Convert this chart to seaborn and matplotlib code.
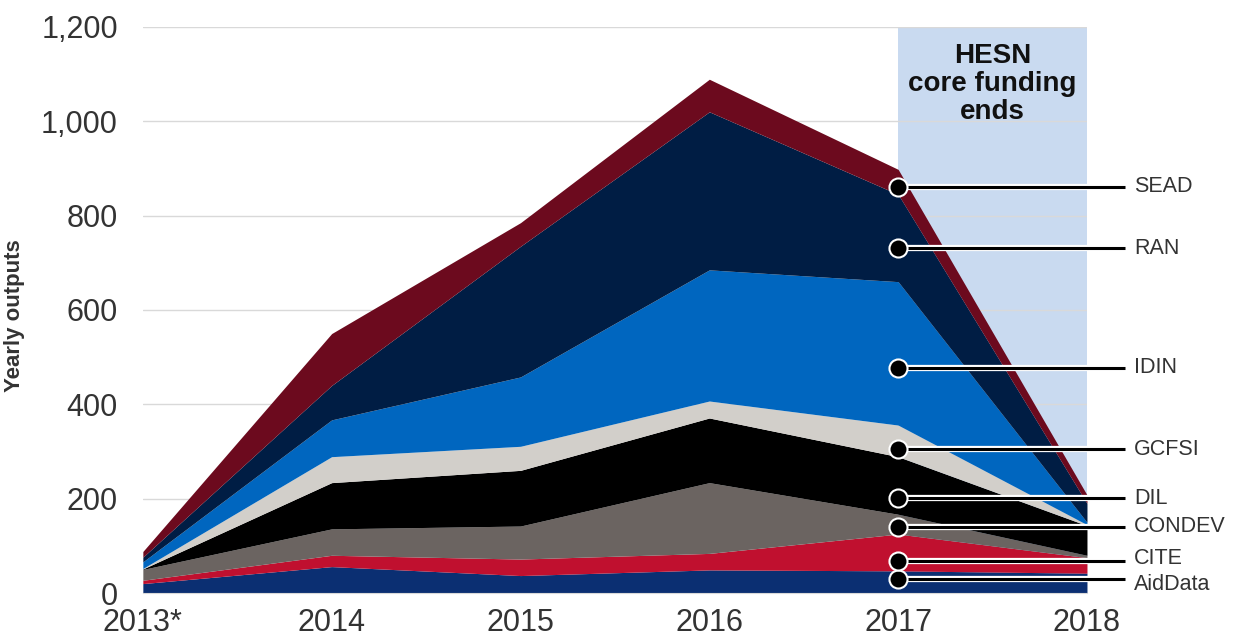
import matplotlib
matplotlib.use("Agg")
import matplotlib.pyplot as plt
import matplotlib.patheffects as pe
import seaborn as sns

years = [2013, 2014, 2015, 2016, 2017, 2018]
year_labels = ["2013*", "2014", "2015", "2016", "2017", "2018"]

# yearly outputs per network, bottom layer first
aiddata = [20, 56, 37, 49, 47, 42]
cite = [7, 24, 35, 35, 78, 33]
condev = [23, 56, 70, 150, 42, 5]
dil = [1, 98, 118, 137, 122, 63]
gcfsi = [1, 55, 51, 36, 67, 2]
idin = [14, 78, 147, 278, 304, 5]
ran = [10, 73, 277, 335, 185, 40]
sead = [12, 110, 50, 69, 53, 18]

series_names = ["AidData", "CITE", "CONDEV", "DIL", "GCFSI", "IDIN", "RAN", "SEAD"]
colors = ["#0b2f72", "#c0102f", "#6b6461", "#000000",
          "#d2cfca", "#0066bf", "#001d44", "#6c0a1e"]
# where each label's pointer sits on the 2017 column
label_y = [30, 68, 140, 201, 305, 477, 731, 861]
# small vertical nudges (points) so the bottom labels don't collide
text_nudge = [-4, 2, 0, 0, 0, 0, 0, 0]

sns.set_style("white")
plt.rcParams["font.family"] = ["Liberation Sans", "DejaVu Sans"]

fig = plt.figure(figsize=(12.53, 6.4), dpi=100)
ax = fig.add_axes([0.114, 0.0734, 0.7535, 0.8846])

ax.axvspan(2017, 2018, color="#c9daf0", zorder=0.5, lw=0)
ax.stackplot(years, aiddata, cite, condev, dil, gcfsi, idin, ran, sead,
             colors=colors, zorder=1, lw=0)

ax.set_xlim(2013, 2018)
ax.set_ylim(0, 1200)
ax.set_yticks(range(0, 1201, 200))
ax.set_yticklabels([f"{v:,}" for v in range(0, 1201, 200)])
ax.set_xticks(years)
ax.set_xticklabels(year_labels)
ax.yaxis.grid(True, color="#d9d9d9", lw=1, zorder=0)
ax.set_axisbelow(True)
for s in ["top", "right", "left"]:
    ax.spines[s].set_visible(False)
ax.spines["bottom"].set_color("#d9d9d9")
ax.tick_params(axis="x", colors="#d0d0d0", length=6, width=1,
               labelcolor="#333333", labelsize=22, pad=5)
ax.tick_params(axis="y", length=0, labelcolor="#333333", labelsize=22, pad=18)
ax.set_ylabel("Yearly outputs", fontsize=16, fontweight="bold", color="#333333")
ax.yaxis.set_label_coords(-0.125, 0.49)

ax.text(2017.5, 1165, "HESN\ncore funding\nends", ha="center", va="top",
        fontsize=20, fontweight="bold", color="#111111", linespacing=1.1,
        zorder=3)

stroke = [pe.withStroke(linewidth=4.5, foreground="white")]
for name, y, dy in zip(series_names, label_y, text_nudge):
    ax.plot([2017, 2018.2], [y, y], color="black", lw=2.2, clip_on=False,
            zorder=4, path_effects=stroke, solid_capstyle="butt")
    ax.plot([2017], [y], marker="o", ms=13, color="black", mec="white",
            mew=1.5, clip_on=False, zorder=5)
    ax.annotate(name, (2018.25, y), xytext=(0, dy), textcoords="offset points",
                va="center", ha="left", fontsize=15.5, color="#333333",
                annotation_clip=False)

fig.savefig("out.png", dpi=100)
